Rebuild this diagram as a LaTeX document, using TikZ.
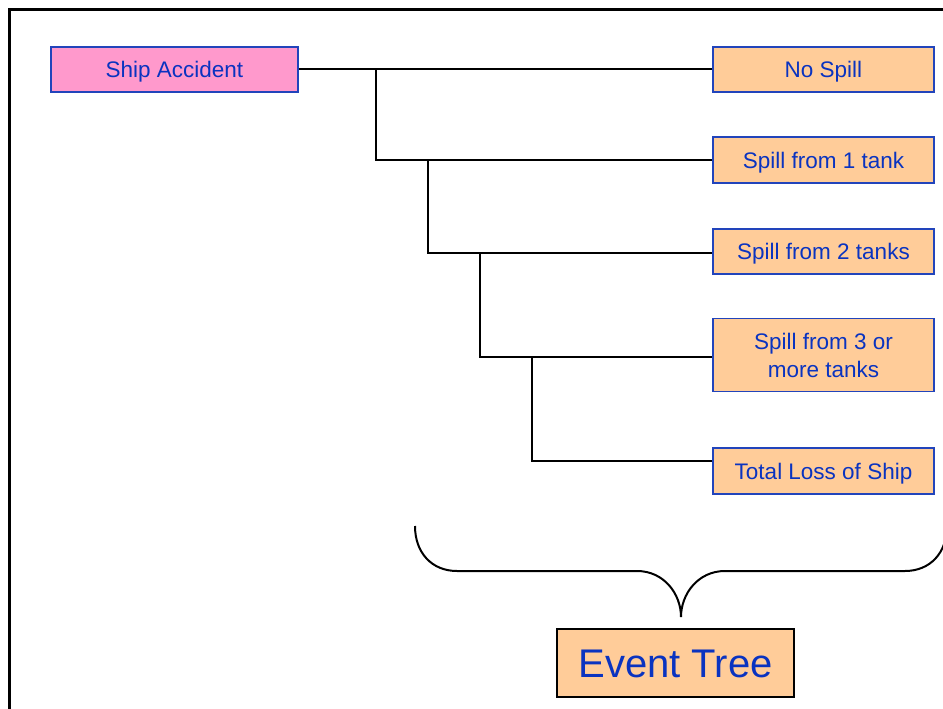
\documentclass[tikz,border=0pt]{standalone}
\usepackage{fontspec}
\setmainfont{Liberation Sans}
\definecolor{txtblue}{HTML}{0A33C0}
\definecolor{edgeblue}{HTML}{2244BB}
\definecolor{pinkfill}{HTML}{FF99CC}
\definecolor{orangefill}{HTML}{FFCC99}
\begin{document}
\begin{tikzpicture}[x=1pt,y=1pt,
  basebox/.style={draw=edgeblue, line width=1.5pt, fill=orangefill, text=txtblue,
    minimum width=221pt, minimum height=45pt, inner sep=0pt, align=center,
    font=\fontsize{22.5}{28}\selectfont},
  box/.style={basebox, text height=16.1pt, text depth=0pt},
  tree/.style={line width=2pt, black},
  bracestyle/.style={line width=2pt, black}]
\useasboundingbox (0,0) rectangle (943,-709);
\clip (0,0) rectangle (943,-709);
\fill[white] (0,0) rectangle (943,-709);
% frame
\draw[line width=3pt] (9.5,-720) -- (9.5,-9.5) -- (960,-9.5);
% nodes
\node[box, fill=pinkfill, minimum width=247pt] (ship) at (174.5,-69.5) {Ship Accident};
\node[box] (nospill) at (823.5,-69.5) {No Spill};
\node[box, minimum height=46pt] (s1) at (823.5,-160) {Spill from 1 tank};
\node[box] (s2) at (823.5,-251.5) {Spill from 2 tanks};
\node[basebox, minimum height=73pt] (s3) at (823.5,-355) {\raisebox{0pt}{}Spill from 3 or\\more tanks};
\node[box, minimum height=46pt] (tl) at (823.5,-471) {Total Loss of Ship};
\node[draw=black, line width=2pt, fill=orangefill, text=txtblue, minimum width=237pt,
  minimum height=68pt, inner sep=0pt, text height=28.6pt, text depth=0pt,
  font=\fontsize{40}{48}\selectfont] (et) at (675.5,-663) {Event Tree};
% branch points
\coordinate (b1) at (376,-69.5);
\coordinate (b2) at (428,-160);
\coordinate (b3) at (480,-252.5);
\coordinate (b4) at (532,-356.5);
\coordinate (tlin) at ([yshift=10pt]tl.west);
% connectors
\draw[tree] (ship.east) -- (nospill.west);
\draw[tree] (b1) |- (s1.west);
\draw[tree] (b2) |- ([yshift=-1pt]s2.west);
\draw[tree] (b3) |- ([yshift=-1.5pt]s3.west);
\draw[tree] (b4) |- (tlin);
% brace
\coordinate (tip) at (681,-617);
\draw[bracestyle] (415,-526) .. controls (415,-553) and (432,-571) .. (457,-571)
  -- (637,-571) .. controls (664,-571) and (681,-594) .. (tip)
  .. controls (681,-594) and (698,-571) .. (725,-571)
  -- (905,-571) .. controls (930,-571) and (947,-553) .. (947,-526);
\end{tikzpicture}
\end{document}
